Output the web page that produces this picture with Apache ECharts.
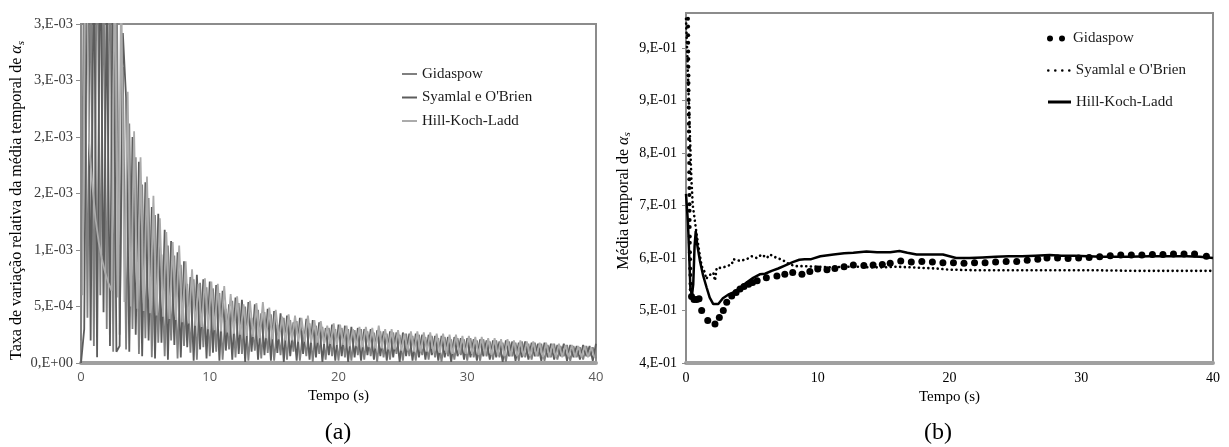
<!DOCTYPE html>
<html>
<head>
<meta charset="utf-8">
<script src="https://cdn.jsdelivr.net/npm/echarts@6/dist/echarts.min.js"></script>
<style>
  html, body { margin: 0; padding: 0; background: #ffffff; }
  #chart { width: 1229px; height: 447px; }
</style>
</head>
<body>
<div id="chart"></div>
<script>
// ---------------- shared ----------------
const SERIES_NAMES = ['Gidaspow', "Syamlal e O'Brien", 'Hill-Koch-Ladd'];
const timeTicks = [0, 10, 20, 30, 40];

// ---------------- panel (a): relative rate of change of the time-averaged alpha_s ----------------
// values are stored in units of 1e-5, sampled every RATE_STEP seconds
const RATE_UNIT = 1e-5;
const RATE_STEP = 0.25;
const GID_RATE_START = 0;
const SYA_RATE_START = 0;
const HKL_RATE_START = 0.125;

const gidaspowRate = [
  20, 380, 40, 360, 15, 410, 60, 350, 30, 390, 10, 370, 25,
  262, 12, 212, 30, 182, 8, 158, 22, 146, 5, 131, 18, 96, 6, 104, 20, 95, 4, 87, 15, 70, 9, 74, 3, 71, 14, 67, 6,
  66, 10, 62, 3, 48, 12, 55, 5, 53, 8, 50, 2, 40, 11, 47, 4, 45, 9, 43, 2, 34, 7, 40, 3,
  38, 10, 37, 2, 29, 6, 35, 1, 33, 8, 32, 3, 31, 6, 30, 2,
  31, 5, 30, 2, 29, 7, 30, 3, 28, 6, 27, 1, 28, 5, 26, 3, 27, 8, 25, 2,
  26, 6, 24, 2, 25, 7, 23, 3, 24, 5, 22, 1, 23, 6, 21, 3, 22, 7, 21, 2,
  22, 5, 20, 2, 21, 6, 19, 3, 20, 5, 18, 1, 19, 6, 18, 2, 19, 5, 17, 3,
  18, 6, 17, 2, 16, 5, 17, 3, 15, 6, 16, 2, 15, 5, 14, 3, 15, 6, 14, 4
];

const syamlalRate = [
  0, 30, 420, 20, 380, 5, 400, 45, 330, 15, 390, 10, 15,
  292, 235, 10, 200, 25, 178, 6, 160, 20, 138, 4, 132, 18, 118, 3, 108, 16, 98, 5, 90, 14, 76, 2, 78, 12, 74, 4, 72,
  9, 69, 2, 64, 11, 52, 3, 58, 8, 56, 1, 54, 10, 52, 3, 44, 7, 48, 2, 46, 9, 44, 1, 42,
  6, 36, 2, 40, 8, 39, 3, 38, 5, 36, 1, 31, 7, 34, 2, 34,
  6, 33, 1, 32, 5, 31, 2, 30, 7, 30, 3, 29, 6, 28, 2, 28, 5, 27, 1, 27,
  6, 26, 2, 26, 5, 25, 3, 25, 7, 24, 2, 24, 5, 23, 1, 23, 6, 22, 3, 22,
  5, 21, 2, 21, 6, 20, 3, 20, 5, 19, 1, 20, 6, 19, 2, 18, 5, 19, 3, 18,
  6, 17, 2, 18, 5, 17, 3, 16, 6, 17, 2, 16, 5, 15, 3, 16, 6, 15, 2, 17
];

const hklRate = [
  60, 410, 195, 158, 128, 107, 92, 80, 71, 64, 360, 58, 340, 54,
  240, 50, 205, 48, 182, 46, 165, 44, 148, 42, 128, 41, 116, 39, 107, 38, 104, 36, 90, 35, 83, 33, 70, 32, 75, 30,
  72, 29, 70, 28, 68, 27, 61, 26, 59, 25, 52, 24, 55, 23, 53, 22, 54, 22, 49, 21,
  47, 21, 41, 20, 43, 20, 42, 19, 40, 19, 42, 18, 38, 18, 37, 17, 33, 17, 35, 16,
  34, 16, 33, 15, 30, 15, 32, 14, 32, 14, 31, 13, 33, 13, 30, 12, 30, 12, 29, 11,
  26, 11, 28, 10, 28, 10, 27, 10, 27, 9, 26, 9, 26, 9, 25, 8, 25, 8, 24, 8,
  24, 8, 23, 7, 23, 7, 22, 7, 22, 7, 21, 6, 21, 6, 20, 6, 20, 6, 19, 6,
  19, 6, 18, 5, 18, 5, 17, 5, 17, 5, 16, 5, 16, 5, 15, 5, 15, 5, 14, 5
];

const rateTicks = [0, 0.0005, 0.001, 0.0015, 0.002, 0.0025, 0.003];
const rateTickLabels = ['0,E+00', '5,E-04', '1,E-03', '2,E-03', '2,E-03', '3,E-03', '3,E-03'];

// ---------------- panel (b): time-averaged alpha_s ----------------
const gidaspowMean = [
  [0.15, 0.990], [0.155, 0.977], [0.16, 0.962], [0.166, 0.949], [0.17, 0.934], [0.176, 0.921],
  [0.18, 0.908], [0.186, 0.893], [0.19, 0.880], [0.195, 0.867], [0.2, 0.851], [0.206, 0.838],
  [0.21, 0.826], [0.215, 0.810], [0.22, 0.797], [0.226, 0.784], [0.23, 0.769], [0.236, 0.756],
  [0.24, 0.743], [0.245, 0.727], [0.25, 0.715], [0.256, 0.700], [0.26, 0.688], [0.266, 0.672],
  [0.27, 0.661], [0.276, 0.645], [0.28, 0.633], [0.286, 0.617], [0.29, 0.606], [0.3, 0.590],
  [0.31, 0.578], [0.32, 0.562], [0.33, 0.551], [0.34, 0.536], [0.36, 0.526], [0.42, 0.514],
  [0.61, 0.509], [0.81, 0.509], [0.99, 0.510], [1.19, 0.490], [1.65, 0.473], [2.2, 0.467],
  [2.53, 0.478], [2.83, 0.490], [3.09, 0.504], [3.47, 0.515], [3.8, 0.521], [4.1, 0.527],
  [4.4, 0.531], [4.75, 0.535], [5.05, 0.538], [5.4, 0.541], [6.1, 0.546], [6.9, 0.549],
  [7.5, 0.552], [8.1, 0.555], [8.8, 0.552], [9.4, 0.557], [10.0, 0.561], [10.7, 0.560],
  [11.3, 0.562], [12.0, 0.565], [12.7, 0.568], [13.5, 0.567], [14.2, 0.568], [14.9, 0.569],
  [15.5, 0.571], [16.3, 0.575], [17.1, 0.573], [17.9, 0.574], [18.7, 0.573], [19.5, 0.572],
  [20.3, 0.572], [21.1, 0.571], [21.9, 0.572], [22.7, 0.572], [23.5, 0.573], [24.3, 0.574],
  [25.1, 0.574], [25.9, 0.576], [26.7, 0.578], [27.4, 0.580], [28.2, 0.580], [29.0, 0.579],
  [29.8, 0.580], [30.6, 0.581], [31.4, 0.582], [32.2, 0.584], [33.0, 0.585], [33.8, 0.585],
  [34.6, 0.585], [35.4, 0.586], [36.2, 0.586], [37.0, 0.587], [37.8, 0.587], [38.6, 0.587],
  [39.5, 0.583]
];

const syamlalMean = [
  [0.0, 0.990], [0.1, 0.930], [0.2, 0.860], [0.3, 0.790], [0.4, 0.720], [0.51, 0.671],
  [0.63, 0.651], [0.81, 0.620], [1.0, 0.592], [1.19, 0.566], [1.44, 0.555], [1.52, 0.544],
  [1.69, 0.549], [2.07, 0.555], [2.2, 0.541], [2.33, 0.563], [2.71, 0.563], [3.09, 0.566],
  [3.47, 0.569], [3.59, 0.578], [4.1, 0.575], [4.6, 0.578], [4.99, 0.583], [5.37, 0.580],
  [5.75, 0.586], [6.13, 0.580], [6.38, 0.586], [6.89, 0.580], [7.3, 0.577], [7.8, 0.570],
  [8.3, 0.566], [9.0, 0.566], [10.0, 0.565], [11.0, 0.564], [12.0, 0.565], [13.0, 0.565],
  [14.0, 0.564], [15.0, 0.564], [16.0, 0.565], [17.0, 0.564], [18.0, 0.563], [19.0, 0.562],
  [20.0, 0.560], [22.0, 0.559], [25.0, 0.559], [28.0, 0.559], [31.0, 0.559], [34.0, 0.558],
  [37.0, 0.558], [40.0, 0.558]
];

const hklMean = [
  [0.0, 0.690], [0.15, 0.640], [0.25, 0.580], [0.33, 0.530], [0.45, 0.515], [0.55, 0.535],
  [0.65, 0.600], [0.74, 0.626], [0.85, 0.603], [1.06, 0.575], [1.3, 0.550], [1.57, 0.529],
  [1.8, 0.512], [2.07, 0.501], [2.45, 0.501], [2.8, 0.511], [3.2, 0.517], [3.6, 0.521],
  [4.1, 0.529], [4.6, 0.538], [5.1, 0.546], [5.6, 0.552], [6.0, 0.553], [6.5, 0.558],
  [7.0, 0.562], [7.5, 0.567], [8.1, 0.573], [8.6, 0.577], [9.0, 0.578], [9.5, 0.578],
  [10.2, 0.583], [11.2, 0.586], [12.0, 0.588], [12.7, 0.589], [13.7, 0.591], [14.5, 0.590],
  [15.5, 0.590], [16.2, 0.592], [16.8, 0.589], [17.5, 0.586], [18.5, 0.586], [19.5, 0.586],
  [20.0, 0.583], [20.5, 0.580], [21.5, 0.580], [22.5, 0.581], [23.5, 0.582], [24.5, 0.583],
  [25.5, 0.583], [26.5, 0.584], [27.6, 0.585], [28.5, 0.584], [29.5, 0.584], [30.5, 0.583],
  [31.5, 0.582], [32.2, 0.582], [33.5, 0.582], [35.2, 0.583], [36.5, 0.583], [38.0, 0.583],
  [39.0, 0.582], [40.0, 0.580]
];

const meanTicks = [0.40, 0.49, 0.58, 0.67, 0.76, 0.85, 0.94];
const meanTickLabels = ['4,E-01', '5,E-01', '6,E-01', '7,E-01', '8,E-01', '9,E-01', '9,E-01'];

// ---------------- helpers ----------------
function sampled(values, start) {
  return values.map((v, i) => [start + i * RATE_STEP, v * RATE_UNIT]);
}
function tickLabeller(ticks, labels) {
  return function (value) {
    const i = ticks.findIndex(t => Math.abs(t - value) < 1e-9);
    return i < 0 ? '' : labels[i];
  };
}

const SERIF = 'Liberation Serif';
const AXIS_GRAY = '#8c8c8c';
const BASE_GRAY = '#a0a0a0';
const RATE_COLORS = ['#808080', '#5c5c5c', '#ababab'];
const LEGEND_TEXT = { fontFamily: SERIF, fontSize: 15, color: '#1a1a1a', lineHeight: 17 };

function alphaName(prefix) {
  return prefix + '{a|α}{s|s}';
}
function alphaNameStyle(shift) {
  return {
    fontFamily: SERIF, fontSize: 16, color: '#000', lineHeight: 19,
    padding: [0, shift, 0, 0],
    rich: {
      a: { fontFamily: SERIF, fontSize: 16, fontStyle: 'italic', color: '#000', lineHeight: 19 },
      s: { fontFamily: SERIF, fontSize: 11, fontStyle: 'italic', color: '#000', verticalAlign: 'bottom', lineHeight: 13 }
    }
  };
}

const chart = echarts.init(document.getElementById('chart'), null, { renderer: 'canvas' });

const option = {
  animation: false,
  backgroundColor: '#ffffff',
  grid: [
    { left: 81, top: 24, width: 515, height: 339, show: true, borderColor: AXIS_GRAY, borderWidth: 2, backgroundColor: 'transparent' },
    { left: 686, top: 13, width: 527, height: 350, show: true, borderColor: AXIS_GRAY, borderWidth: 2, backgroundColor: 'transparent' }
  ],
  xAxis: [
    {
      gridIndex: 0, type: 'value', min: timeTicks[0], max: timeTicks[timeTicks.length - 1], interval: 10,
      axisLine: { lineStyle: { color: BASE_GRAY, width: 4 } },
      axisTick: { show: false },
      splitLine: { show: false },
      axisLabel: { fontFamily: 'Open Sans', fontSize: 13, color: '#595959', margin: 8 },
      name: 'Tempo (s)', nameLocation: 'middle', nameGap: 25,
      nameTextStyle: { fontFamily: SERIF, fontSize: 15, color: '#000' }
    },
    {
      gridIndex: 1, type: 'value', min: timeTicks[0], max: timeTicks[timeTicks.length - 1], interval: 10,
      axisLine: { lineStyle: { color: BASE_GRAY, width: 4 } },
      axisTick: { show: false },
      splitLine: { show: false },
      axisLabel: { fontFamily: SERIF, fontSize: 14, color: '#000', margin: 8 },
      name: 'Tempo (s)', nameLocation: 'middle', nameGap: 27,
      nameTextStyle: { fontFamily: SERIF, fontSize: 15, color: '#000' }
    }
  ],
  yAxis: [
    {
      gridIndex: 0, type: 'value', min: 0, max: 0.003,
      axisLine: { show: true, lineStyle: { color: AXIS_GRAY, width: 2 } },
      axisTick: { show: true, length: 5, lineStyle: { color: AXIS_GRAY }, customValues: rateTicks },
      splitLine: { show: false },
      axisLabel: {
        customValues: rateTicks, formatter: tickLabeller(rateTicks, rateTickLabels),
        fontFamily: SERIF, fontSize: 14.5, color: '#3a3a3a', margin: 8
      },
      name: alphaName('Taxa de variação relativa da média temporal de '),
      nameLocation: 'middle', nameRotate: 90, nameGap: 53,
      nameTextStyle: alphaNameStyle(14)
    },
    {
      gridIndex: 1, type: 'value', min: 0.4, max: 1.0,
      axisLine: { show: true, lineStyle: { color: AXIS_GRAY, width: 1 } },
      axisTick: { show: true, length: 4, lineStyle: { color: AXIS_GRAY }, customValues: meanTicks },
      splitLine: { show: false },
      axisLabel: {
        customValues: meanTicks, formatter: tickLabeller(meanTicks, meanTickLabels),
        fontFamily: SERIF, fontSize: 14, color: '#000', margin: 9
      },
      name: alphaName('Média temporal de '),
      nameLocation: 'middle', nameRotate: 90, nameGap: 53,
      nameTextStyle: alphaNameStyle(26)
    }
  ],
  legend: [
    {
      left: 402, top: 65.5, padding: 0, orient: 'vertical', selectedMode: false,
      itemWidth: 15, itemHeight: 2, itemGap: 6.5, icon: 'rect',
      data: SERIES_NAMES,
      textStyle: LEGEND_TEXT
    },
    {
      left: 1047, top: 30, padding: 0, selectedMode: false, itemWidth: 24, itemHeight: 6,
      data: [{
        name: SERIES_NAMES[0],
        icon: 'path://M0,3a3,3 0 1,0 6,0a3,3 0 1,0 -6,0M12,3a3,3 0 1,0 6,0a3,3 0 1,0 -6,0',
        itemStyle: { color: '#000', borderColor: '#000', borderWidth: 0 }
      }],
      textStyle: LEGEND_TEXT
    },
    {
      left: 1047, top: 62, padding: 0, selectedMode: false, itemWidth: 24, itemHeight: 2.6,
      data: [{
        name: SERIES_NAMES[1],
        icon: 'path://M0,1.3a1.3,1.3 0 1,0 2.6,0a1.3,1.3 0 1,0 -2.6,0M7,1.3a1.3,1.3 0 1,0 2.6,0a1.3,1.3 0 1,0 -2.6,0M14,1.3a1.3,1.3 0 1,0 2.6,0a1.3,1.3 0 1,0 -2.6,0M21,1.3a1.3,1.3 0 1,0 2.6,0a1.3,1.3 0 1,0 -2.6,0',
        itemStyle: { color: '#000', borderColor: '#000', borderWidth: 0 }
      }],
      textStyle: LEGEND_TEXT
    },
    {
      left: 1048, top: 93.5, padding: 0, selectedMode: false, itemWidth: 23, itemHeight: 3,
      data: [{
        name: SERIES_NAMES[2], icon: 'rect',
        itemStyle: { color: '#000', borderColor: '#000', borderWidth: 0 }
      }],
      textStyle: LEGEND_TEXT
    }
  ],
  graphic: [
    { type: 'text', x: 338, y: 433, style: { text: '(a)', font: '24px "Liberation Serif"', fill: '#000', align: 'center', verticalAlign: 'middle' } },
    { type: 'text', x: 938, y: 433, style: { text: '(b)', font: '24px "Liberation Serif"', fill: '#000', align: 'center', verticalAlign: 'middle' } }
  ],
  series: [
    // panel (a)
    {
      name: SERIES_NAMES[0], type: 'line', xAxisIndex: 0, yAxisIndex: 0,
      data: sampled(gidaspowRate, GID_RATE_START), symbol: 'none', clip: true,
      lineStyle: { color: RATE_COLORS[0], width: 1.8 }, itemStyle: { color: RATE_COLORS[0] }
    },
    {
      name: SERIES_NAMES[1], type: 'line', xAxisIndex: 0, yAxisIndex: 0,
      data: sampled(syamlalRate, SYA_RATE_START), symbol: 'none', clip: true,
      lineStyle: { color: RATE_COLORS[1], width: 1.8 }, itemStyle: { color: RATE_COLORS[1] }
    },
    {
      name: SERIES_NAMES[2], type: 'line', xAxisIndex: 0, yAxisIndex: 0,
      data: sampled(hklRate, HKL_RATE_START), symbol: 'none', clip: true,
      lineStyle: { color: RATE_COLORS[2], width: 1.8 }, itemStyle: { color: RATE_COLORS[2] }
    },
    // panel (b)
    {
      name: SERIES_NAMES[0], type: 'scatter', xAxisIndex: 1, yAxisIndex: 1,
      data: gidaspowMean, symbol: 'circle',
      symbolSize: d => (d[0] < 0.4 ? 4 : 7),
      itemStyle: { color: '#000', opacity: 1 }
    },
    {
      name: SERIES_NAMES[1], type: 'line', xAxisIndex: 1, yAxisIndex: 1,
      data: syamlalMean, symbol: 'none', clip: true,
      lineStyle: { color: '#000', width: 2.6, type: [0.1, 4.6], cap: 'round' },
      itemStyle: { color: '#000' }
    },
    {
      name: SERIES_NAMES[2], type: 'line', xAxisIndex: 1, yAxisIndex: 1,
      data: hklMean, symbol: 'none', clip: true,
      lineStyle: { color: '#000', width: 2.5 }, itemStyle: { color: '#000' }
    }
  ]
};

chart.setOption(option);
</script>
</body>
</html>
